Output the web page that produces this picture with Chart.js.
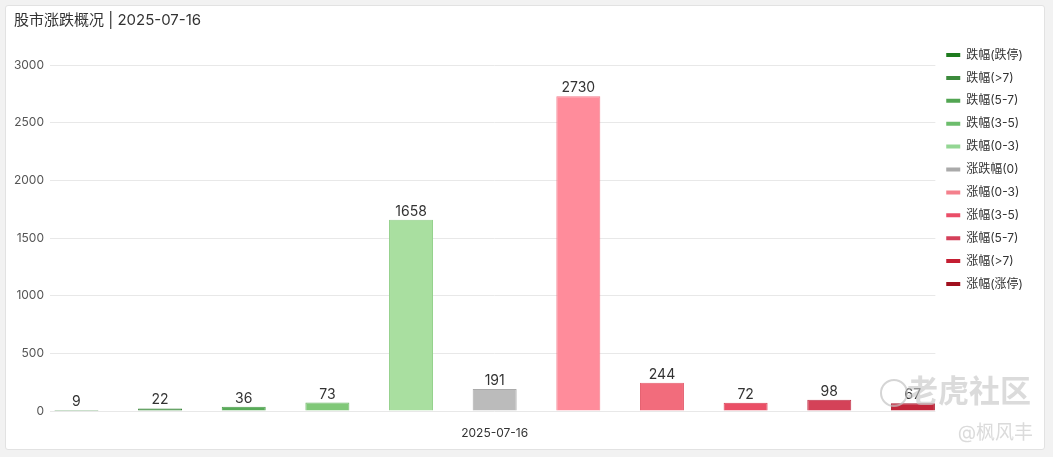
<!DOCTYPE html>
<html>
<head>
<meta charset="utf-8">
<script src="https://cdn.jsdelivr.net/npm/chart.js@4.4.0/dist/chart.umd.min.js"></script>
<style>
    body { margin: 0; background: #f2f2f2; width: 1053px; height: 457px; overflow: hidden; }
    .card { position: absolute; left: 5px; top: 5px; width: 1040px; height: 445px; box-sizing: border-box;
            border: 1px solid #e2e2e2; border-radius: 3px; background: #fff; }
    .chart-box { position: absolute; left: 0; top: 0; width: 1038px; height: 443px; }
</style>
</head>
<body>
<div class="card">
    <div class="chart-box"><canvas id="marketChart"></canvas></div>
</div>
<script>
// Données du graphique
const categories = ['2025-07-16'];
const seriesNames = ['跌幅(跌停)', '跌幅(>7)', '跌幅(5-7)', '跌幅(3-5)', '跌幅(0-3)', '涨跌幅(0)',
                     '涨幅(0-3)', '涨幅(3-5)', '涨幅(5-7)', '涨幅(>7)', '涨幅(涨停)'];
const seriesValues = [9, 22, 36, 73, 1658, 191, 2730, 244, 72, 98, 67];
const yTicks = [0, 500, 1000, 1500, 2000, 2500, 3000];

// Couleurs
const legendColors = ['#1e7b1e', '#3c8a3c', '#52a552', '#6cbd6c', '#93d693', '#aaaaaa',
                      '#f4808c', '#ea4e68', '#d4405a', '#c41e32', '#a0101e'];
const barColors = ['#2e7d32', '#3b8b3b', '#58ab58', '#80c878', '#a9dfa0', '#bbbbbb',
                   '#ff8c9b', '#f26c7c', '#ea4f66', '#d44258', '#c2263a'];
const barBorders = ['#1e6e1e', '#337f33', '#4e9e4e', '#72b86c', '#95d18d', '#aaaaaa',
                    '#f27d8c', '#e45e6e', '#d9435a', '#bf354b', '#a81d30'];

const FONT = 'Inter, "Noto Sans CJK SC", sans-serif';

// Valeurs au-dessus des barres
const valueLabels = {
    id: 'valueLabels',
    afterDatasetsDraw(chart) {
        const ctx = chart.ctx;
        ctx.save();
        ctx.font = '14px ' + FONT;
        ctx.fillStyle = '#333';
        ctx.textAlign = 'center';
        ctx.textBaseline = 'alphabetic';
        chart.data.datasets.forEach((ds, i) => {
            chart.getDatasetMeta(i).data.forEach((bar, j) => {
                ctx.fillText(String(ds.data[j]), bar.x, bar.y - 4);
            });
        });
        ctx.restore();
    }
};

// Filigrane
const watermark = {
    id: 'watermark',
    afterDraw(chart) {
        const ctx = chart.ctx;
        ctx.save();
        ctx.fillStyle = 'rgba(200,200,200,0.65)';
        ctx.strokeStyle = 'rgba(195,195,195,0.7)';
        ctx.lineWidth = 2;
        ctx.beginPath();
        ctx.arc(888, 387, 13, 0, Math.PI * 2);
        ctx.stroke();
        ctx.font = 'bold 31px ' + FONT;
        ctx.textBaseline = 'middle';
        ctx.textAlign = 'left';
        ctx.fillText('老虎社区', 901, 387);
        ctx.font = '19px ' + FONT;
        ctx.textAlign = 'right';
        ctx.fillText('@枫风丰', 1027, 427);
        ctx.restore();
    }
};

document.addEventListener('DOMContentLoaded', () => {
    const datasets = seriesNames.map((name, i) => ({
        label: name,
        data: [seriesValues[i]],
        backgroundColor: barColors[i],
        borderColor: barBorders[i],
        borderWidth: 1
    }));

    const ctx = document.getElementById('marketChart').getContext('2d');
    new Chart(ctx, {
        type: 'bar',
        data: { labels: categories, datasets },
        options: {
            responsive: true,
            maintainAspectRatio: false,
            animation: false,
            categoryPercentage: 1.044,
            barPercentage: 0.526,
            layout: { padding: { left: 8, right: 11, top: 0, bottom: 9 } },
            plugins: {
                title: {
                    display: true,
                    text: '股市涨跌概况 | 2025-07-16',
                    align: 'start',
                    color: '#333',
                    font: { family: FONT, size: 15, weight: 'normal' },
                    padding: { top: 5, bottom: 36 }
                },
                legend: {
                    position: 'right',
                    align: 'start',
                    title: { display: true, text: ' ', font: { size: 12 }, padding: { top: 17.7, bottom: 0 } },
                    labels: {
                        boxWidth: 14,
                        boxHeight: 4,
                        padding: 10.9,
                        useBorderRadius: true,
                        borderRadius: 2,
                        color: '#333',
                        font: { family: FONT, size: 12 },
                        generateLabels: chart => chart.data.datasets.map((ds, i) => ({
                            text: ds.label,
                            fillStyle: legendColors[i],
                            strokeStyle: legendColors[i],
                            lineWidth: 0,
                            fontColor: '#333',
                            hidden: !chart.isDatasetVisible(i),
                            datasetIndex: i
                        }))
                    }
                },
                tooltip: { enabled: false }
            },
            scales: {
                x: {
                    grid: { display: false, drawTicks: false },
                    border: { display: false },
                    ticks: { color: '#333', padding: 15, font: { family: FONT, size: 12 } },
                    afterFit: scale => { scale.height = 29; }
                },
                y: {
                    min: yTicks[0],
                    max: yTicks[yTicks.length - 1],
                    border: { display: false },
                    grid: { color: '#e8e8e8', tickLength: 4, tickColor: '#e8e8e8' },
                    ticks: {
                        stepSize: yTicks[1] - yTicks[0],
                        color: '#555',
                        padding: 6,
                        font: { family: FONT, size: 12 },
                        callback: value => String(value)
                    },
                    afterFit: scale => { scale.width = 40; }
                }
            }
        },
        plugins: [valueLabels, watermark]
    });
});
</script>
</body>
</html>
